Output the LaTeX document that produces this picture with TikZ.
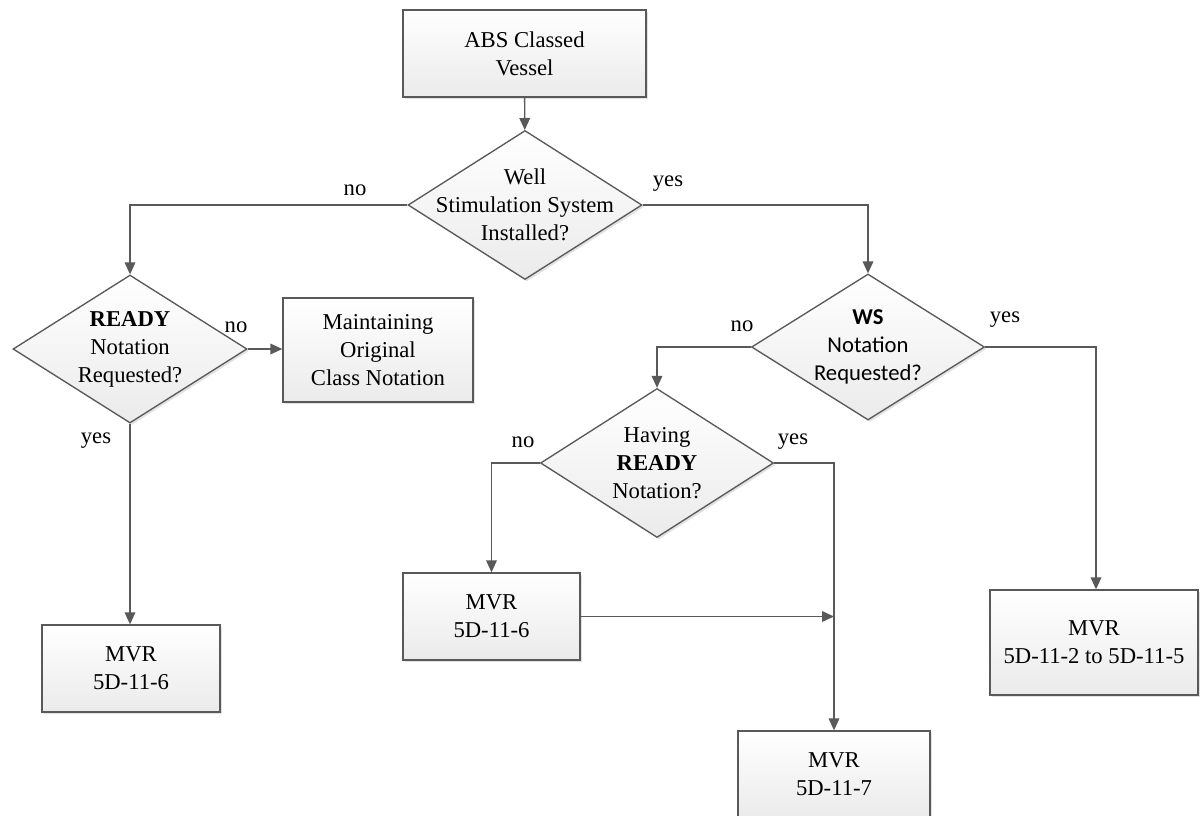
\documentclass[tikz,border=0pt]{standalone}
\usepackage{fontspec}
\setmainfont{Liberation Serif}
\newfontfamily\serifLib{Liberation Serif}
\newfontfamily\calib{Carlito}
\usetikzlibrary{arrows.meta,shapes.geometric,shadows}
\definecolor{ln}{HTML}{595959}
\begin{document}
\begin{tikzpicture}[x=0.75pt,y=-0.75pt,
  every node/.style={font=\serifLib\fontsize{17}{21}\selectfont},
  shad/.style={drop shadow={shadow xshift=1.5pt,shadow yshift=-1.5pt,fill=gray!45,opacity=0.5}},
  box/.style={rectangle, draw=ln, line width=1pt, top color=white, bottom color=gray!16, shad, inner sep=0pt, align=center},
  dia/.style={diamond, draw=ln, line width=1pt, top color=white, bottom color=gray!16, shad, inner sep=0pt},
  txt/.style={align=center, inner sep=0pt},
  lab/.style={inner sep=0pt},
  arr/.style={draw=ln, line width=1pt, -{Triangle[length=9pt,width=8pt]}},
  lin/.style={draw=ln, line width=1pt}
]
\useasboundingbox (0,0) rectangle (1200,815);

% boxes
\node[box, minimum width=182.25pt, minimum height=65.25pt] (vessel) at (524.5,53.5) {ABS Classed\\Vessel};
\node[box, minimum width=142.5pt, minimum height=78pt] (maint) at (378,350) {Maintaining\\Original\\Class Notation};
\node[box, minimum width=133.5pt, minimum height=65.25pt] (mvrA) at (131,668.5) {MVR\\5D-11-6};
\node[box, minimum width=132.75pt, minimum height=65.25pt] (mvrB) at (491.5,616.5) {MVR\\5D-11-6};
\node[box, minimum width=156pt, minimum height=78.75pt] (mvrC) at (1094,642.5) {MVR\\5D-11-2 to 5D-11-5};
\node[box, minimum width=144pt, minimum height=65.25pt] (mvrD) at (834,774.5) {MVR\\5D-11-7};

% diamonds
\node[dia, minimum width=175.5pt, minimum height=111.75pt] (d1) at (525,205) {};
\node[txt] at (d1.center) {Well\\Stimulation System\\Installed?};
\node[dia, minimum width=175.5pt, minimum height=111pt] (d2) at (130,349) {};
\node[txt] at (d2.center) {\textbf{READY}\\Notation\\Requested?};
\node[dia, minimum width=174.75pt, minimum height=109.5pt] (d3) at (868,347) {};
\node[txt, font=\calib\fontsize{17}{21}\selectfont] at (d3.center) {\textbf{WS}\\Notation\\Requested?};
\node[dia, minimum width=174.75pt, minimum height=111.75pt] (d4) at (657,463) {};
\node[txt] at (d4.center) {Having\\\textbf{READY}\\Notation?};

% connectors
\draw[arr] (vessel) -- (d1);
\draw[arr] (d1.west) -| (d2.north);
\draw[arr] (d1.east) -| (d3.north);
\draw[arr] (d2.east) -- (maint.west |- d2.east);
\draw[arr] (d2.south) -- (d2.south |- mvrA.north);
\draw[arr] (d3.west) -| (d4.north);
\draw[arr] (d3.east) -| (mvrC.north -| 1096,0);
\draw[arr] (d4.west) -| (mvrB.north);
\draw[arr] (d4.east) -| (mvrD.north);
\coordinate (join) at (mvrD.north |- mvrB.east);
\draw[arr] (mvrB.east) -- (join);

% labels
\node[lab] at (355,190) {no};
\node[lab] at (668,184) {yes};
\node[lab] at (236,327) {no};
\node[lab] at (96,441) {yes};
\node[lab] at (742,326) {no};
\node[lab] at (1005,320) {yes};
\node[lab] at (523,442) {no};
\node[lab] at (793,442) {yes};
\end{tikzpicture}
\end{document}
